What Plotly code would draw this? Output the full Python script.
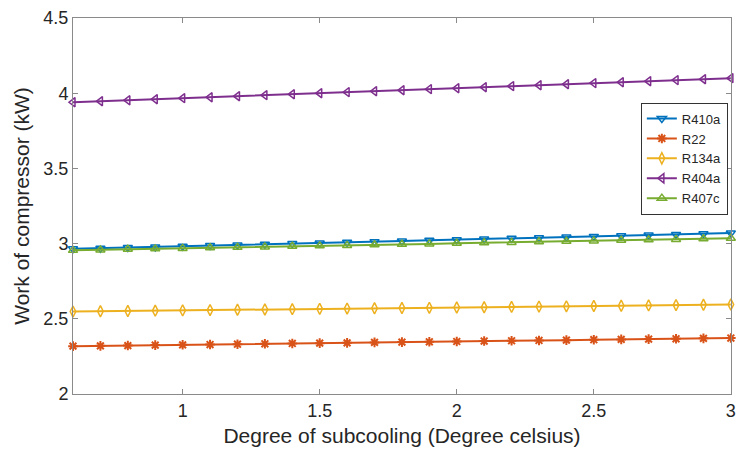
import plotly.graph_objects as go

x_vals = [0.6, 0.7, 0.8, 0.9, 1.0, 1.1, 1.2, 1.3, 1.4, 1.5, 1.6, 1.7, 1.8,
          1.9, 2.0, 2.1, 2.2, 2.3, 2.4, 2.5, 2.6, 2.7, 2.8, 2.9, 3.0]

r410a = [2.965, 2.969, 2.974, 2.978, 2.982, 2.987, 2.991, 2.996, 3.000, 3.004,
         3.009, 3.013, 3.017, 3.022, 3.026, 3.031, 3.035, 3.039, 3.044, 3.048,
         3.052, 3.057, 3.061, 3.066, 3.070]
r22 = [2.318, 2.320, 2.322, 2.325, 2.327, 2.329, 2.331, 2.334, 2.336, 2.338,
       2.340, 2.343, 2.345, 2.347, 2.349, 2.352, 2.354, 2.356, 2.358, 2.361,
       2.363, 2.365, 2.367, 2.370, 2.372]
r134a = [2.548, 2.550, 2.552, 2.554, 2.556, 2.558, 2.560, 2.562, 2.564, 2.566,
         2.568, 2.570, 2.572, 2.573, 2.575, 2.577, 2.579, 2.581, 2.583, 2.585,
         2.587, 2.589, 2.591, 2.593, 2.595]
r404a = [3.940, 3.947, 3.953, 3.960, 3.967, 3.973, 3.980, 3.987, 3.993, 4.000,
         4.007, 4.013, 4.020, 4.027, 4.033, 4.040, 4.047, 4.053, 4.060, 4.067,
         4.073, 4.080, 4.087, 4.093, 4.100]
r407c = [2.955, 2.958, 2.962, 2.965, 2.968, 2.972, 2.975, 2.978, 2.982, 2.985,
         2.988, 2.992, 2.995, 2.998, 3.002, 3.005, 3.008, 3.012, 3.015, 3.018,
         3.022, 3.025, 3.028, 3.032, 3.035]

series = [
    ("R410a", r410a, "#0072BD", "triangle-down-open"),
    ("R22", r22, "#D95319", "asterisk-open"),
    ("R134a", r134a, "#EDB120", "diamond-tall-open"),
    ("R404a", r404a, "#7E2F8E", "triangle-left-open"),
    ("R407c", r407c, "#77AC30", "triangle-up-open"),
]

x_ticks = [1, 1.5, 2, 2.5, 3]
x_tick_text = ["1", "1.5", "2", "2.5", "3"]
y_ticks = [2, 2.5, 3, 3.5, 4, 4.5]
y_tick_text = ["2", "2.5", "3", "3.5", "4", "4.5"]

fig = go.Figure()
for name, vals, color, sym in series:
    fig.add_trace(go.Scatter(
        x=x_vals, y=vals, name=name, mode="lines+markers",
        line=dict(color=color, width=2),
        marker=dict(symbol=sym, size=8, color=color,
                    line=dict(color=color, width=2 if sym == "asterisk-open" else 1.5)),
        cliponaxis=False,
    ))

font_family = "Liberation Sans, Arial, sans-serif"
axis_common = dict(
    showline=True, linecolor="#8a8a8a", linewidth=1, mirror="ticks",
    ticks="inside", ticklen=5, tickcolor="#8a8a8a",
    showgrid=False, zeroline=False, automargin=False,
    tickfont=dict(family=font_family, size=18, color="#262626"),
)

fig.update_layout(
    width=736, height=464,
    margin=dict(l=73, r=5, t=18, b=70),
    paper_bgcolor="white", plot_bgcolor="white",
    font=dict(family=font_family, color="#262626"),
    xaxis=dict(range=[0.6, 3.0005], tickvals=x_ticks, ticktext=x_tick_text,
               title=dict(text="Degree of subcooling (Degree celsius)",
                          font=dict(family=font_family, size=21, color="#262626"),
                          standoff=8),
               **axis_common),
    yaxis=dict(range=[2, 4.5], tickvals=y_ticks, ticktext=y_tick_text,
               title=dict(text="Work of compressor (kW)",
                          font=dict(family=font_family, size=21, color="#262626"),
                          standoff=8),
               **axis_common),
    legend=dict(x=0.863, y=0.775, xanchor="left", yanchor="top",
                bgcolor="white", bordercolor="#333333", borderwidth=1,
                font=dict(family=font_family, size=13, color="#262626"),
                tracegroupgap=0, itemwidth=30),
    showlegend=True,
)

fig.write_html("out.html")
